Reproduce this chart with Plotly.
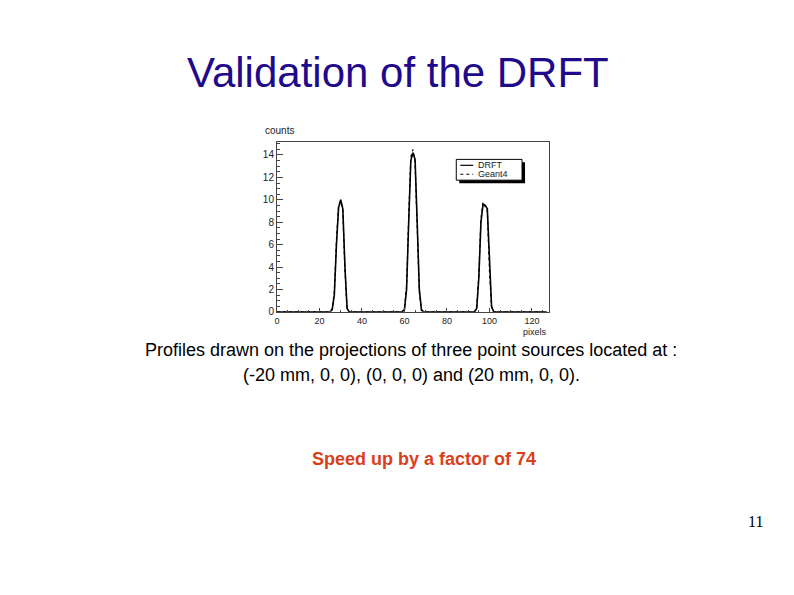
import plotly.graph_objects as go

# ---- data ----
pixels = [0, 25, 26, 27, 28, 29, 30, 31, 32, 33, 34, 59, 60, 61, 62, 63, 64, 65, 66, 67, 68, 69,
          93, 94, 95, 96, 97, 98, 99, 100, 101, 102, 127]
drft = [0, 0, 0.2, 1.5, 6.0, 9.3, 10.0, 9.2, 4.0, 0.3, 0, 0, 0.2, 2.0, 8.0, 13.5, 14.2, 13.6,
        8.0, 2.0, 0.2, 0, 0, 0.3, 3.0, 8.0, 9.6, 9.5, 9.2, 4.0, 0.5, 0, 0]
geant4 = [0, 0, 0.3, 1.8, 6.4, 9.5, 9.9, 9.0, 3.7, 0.2, 0, 0, 0.3, 2.3, 8.4, 13.8, 14.5, 13.3,
          7.6, 1.8, 0.1, 0, 0, 0.4, 3.3, 8.3, 9.8, 9.4, 9.0, 3.7, 0.4, 0, 0]
series_names = ["DRFT", "Geant4"]

x_ticks = [0, 20, 40, 60, 80, 100, 120]
y_ticks = [0, 2, 4, 6, 8, 10, 12, 14]

W, H = 794, 595
DY = 3
def px(x): return x / W
def py(y): return 1 - (y + DY) / H

fig = go.Figure()
fig.add_trace(go.Scatter(x=pixels, y=drft, mode="lines", name=series_names[0],
                         line=dict(color="black", width=1.6)))
fig.add_trace(go.Scatter(x=pixels, y=geant4, mode="lines", name=series_names[1],
                         line=dict(color="black", width=1.2, dash="dot")))

axis_common = dict(showgrid=False, zeroline=False, showline=True, linecolor="#444",
                   linewidth=1, mirror=True, ticks="inside", tickcolor="#444")
fig.update_layout(
    width=W, height=H, autosize=False,
    margin=dict(l=0, r=0, t=0, b=0),
    paper_bgcolor="white", plot_bgcolor="white",
    xaxis=dict(domain=[px(275), px(548)], range=[0, 128], tickvals=x_ticks, ticklen=4,
               minor=dict(ticks="inside", dtick=5, ticklen=2, tickcolor="#444"),
               tickfont=dict(family="Liberation Sans", size=9, color="#222"),
               **axis_common),
    yaxis=dict(domain=[py(312), py(140)], range=[0, 15.2], tickvals=y_ticks, ticklen=6,
               minor=dict(ticks="inside", dtick=0.5, ticklen=3, tickcolor="#444"),
               tickfont=dict(family="Liberation Sans", size=10, color="#222"),
               **axis_common),
    showlegend=False,
)

def text(t, x, y, size, color="#222", family="Liberation Sans", xanchor="center"):
    return dict(text=t, x=px(x), y=py(y), xref="paper", yref="paper",
                xanchor=xanchor, yanchor="middle", showarrow=False,
                font=dict(family=family, size=size, color=color))

ann = []
ann.append(text("counts", 261, 129, 10, xanchor="left"))
ann.append(text("pixels", 548, 332, 9, xanchor="right"))
ann.append(text("Validation of the DRFT", 396, 70, 42, color="#1F0A8C"))
ann.append(text("Profiles drawn on the projections of three point sources located at :",
                410, 351, 18, color="black"))
ann.append(text("(-20 mm, 0, 0), (0, 0, 0) and (20 mm, 0, 0).", 410, 376, 18, color="black"))
ann.append(text("<b>Speed up by a factor of 74</b>", 423, 461, 18, color="#D9401A"))
ann.append(text("11", 755, 524, 16, color="black", family="Liberation Serif"))

# custom compact legend (ROOT style)
shapes = []
shapes.append(dict(type="rect", xref="paper", yref="paper",
                   x0=px(458), x1=px(524), y0=py(182), y1=py(161),
                   fillcolor="black", line=dict(width=0)))
shapes.append(dict(type="rect", xref="paper", yref="paper",
                   x0=px(455), x1=px(521), y0=py(179), y1=py(158),
                   fillcolor="white", line=dict(color="black", width=1)))
leg_y = [164, 173]
leg_dash = ["solid", "dot"]
for name, yy, dsh in zip(series_names, leg_y, leg_dash):
    shapes.append(dict(type="line", xref="paper", yref="paper",
                       x0=px(459), x1=px(472), y0=py(yy), y1=py(yy),
                       line=dict(color="black", width=1.2, dash=dsh)))
    ann.append(text(name, 475, yy, 9, xanchor="left"))

fig.update_layout(annotations=ann, shapes=shapes)

fig.write_html("out.html", config={"displayModeBar": False},
               post_script="document.body.style.margin='0';")
